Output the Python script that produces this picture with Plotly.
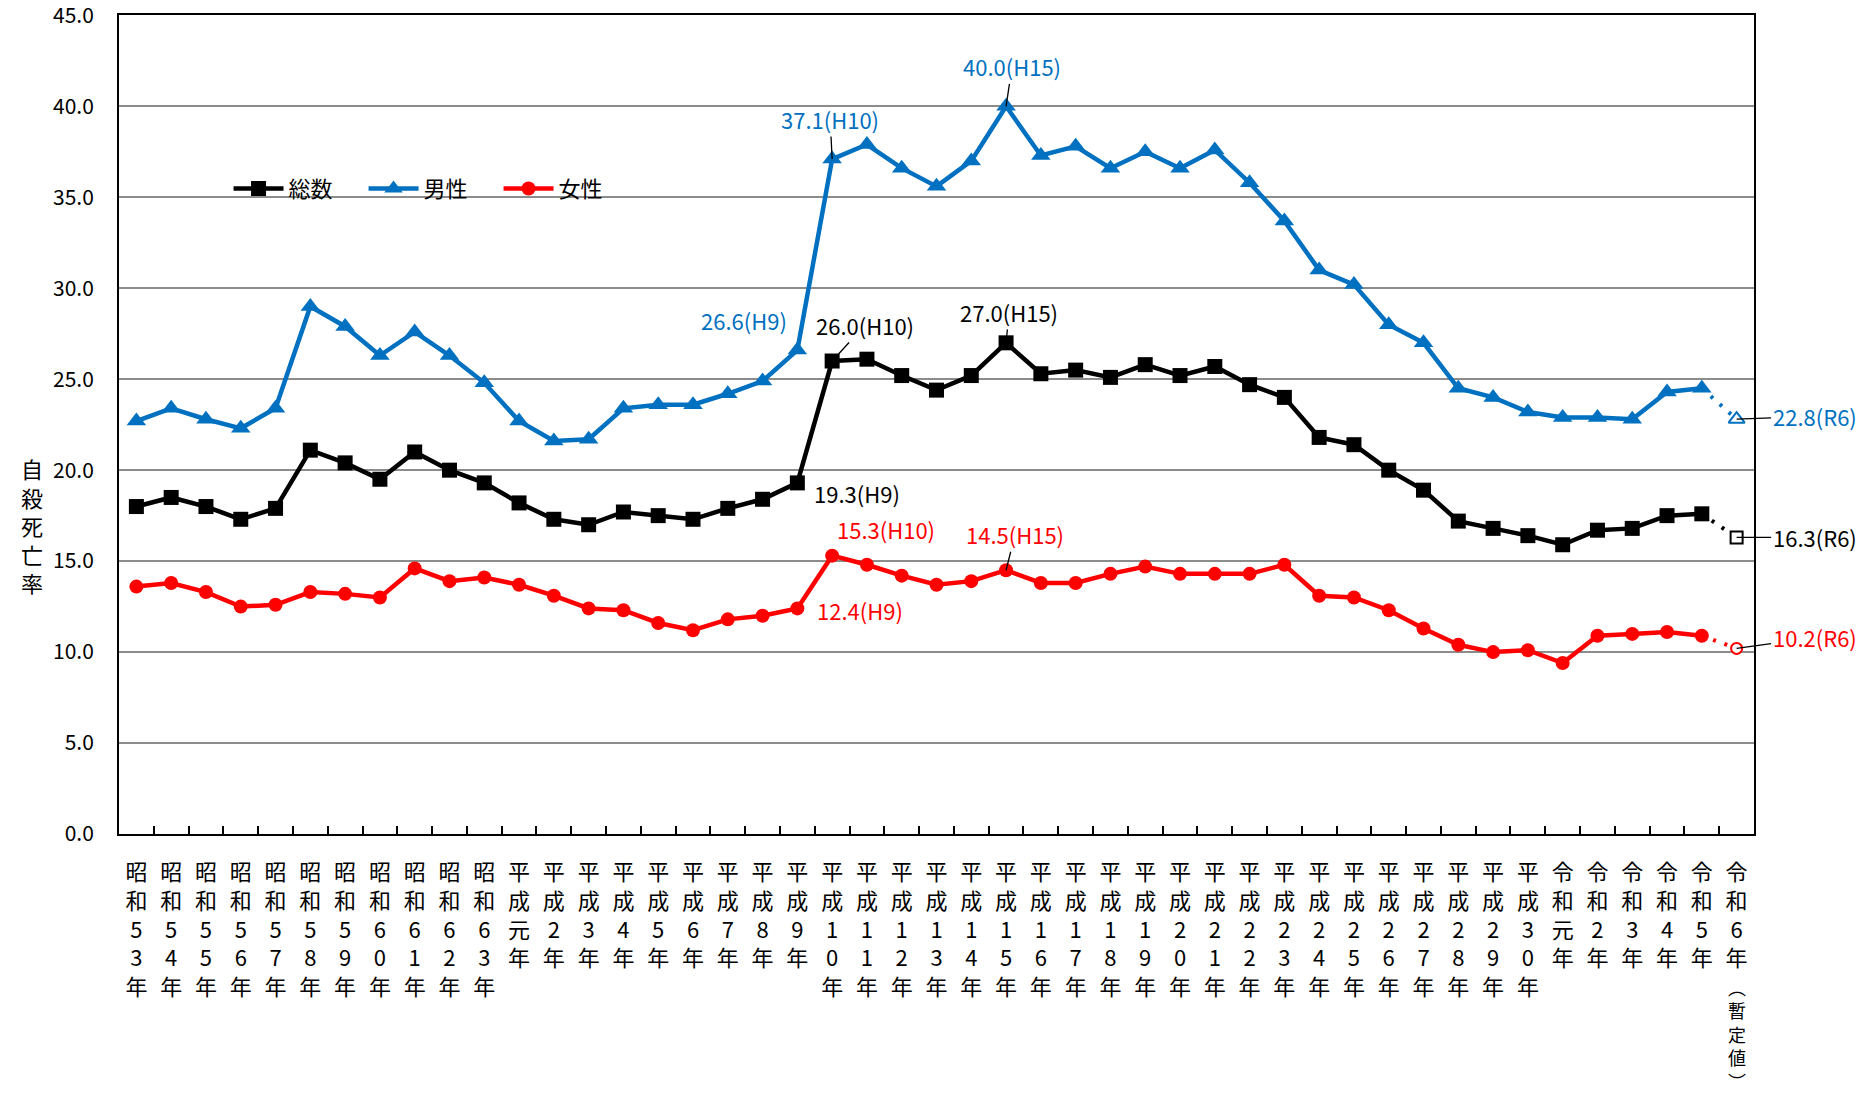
import plotly.graph_objects as go

categories = [
    "昭和53年", "昭和54年", "昭和55年", "昭和56年", "昭和57年", "昭和58年", "昭和59年",
    "昭和60年", "昭和61年", "昭和62年", "昭和63年",
    "平成元年", "平成2年", "平成3年", "平成4年", "平成5年", "平成6年", "平成7年", "平成8年", "平成9年",
    "平成10年", "平成11年", "平成12年", "平成13年", "平成14年", "平成15年", "平成16年", "平成17年",
    "平成18年", "平成19年", "平成20年", "平成21年", "平成22年", "平成23年", "平成24年", "平成25年",
    "平成26年", "平成27年", "平成28年", "平成29年", "平成30年",
    "令和元年", "令和2年", "令和3年", "令和4年", "令和5年", "令和6年（暫定値）",
]

total = [18.0, 18.5, 18.0, 17.3, 17.9, 21.1, 20.4, 19.5, 21.0, 20.0, 19.3,
         18.2, 17.3, 17.0, 17.7, 17.5, 17.3, 17.9, 18.4, 19.3,
         26.0, 26.1, 25.2, 24.4, 25.2, 27.0, 25.3, 25.5, 25.1, 25.8, 25.2, 25.7,
         24.7, 24.0, 21.8, 21.4, 20.0, 18.9, 17.2, 16.8, 16.4,
         15.9, 16.7, 16.8, 17.5, 17.6, 16.3]

male = [22.7, 23.4, 22.8, 22.3, 23.4, 29.0, 27.9, 26.3, 27.6, 26.3, 24.8,
        22.7, 21.6, 21.7, 23.4, 23.6, 23.6, 24.2, 24.9, 26.6,
        37.1, 37.9, 36.6, 35.6, 37.0, 40.0, 37.3, 37.8, 36.6, 37.5, 36.6, 37.6,
        35.8, 33.7, 31.0, 30.2, 28.0, 27.0, 24.5, 24.0, 23.2,
        22.9, 22.9, 22.8, 24.3, 24.5, 22.8]

female = [13.6, 13.8, 13.3, 12.5, 12.6, 13.3, 13.2, 13.0, 14.6, 13.9, 14.1,
          13.7, 13.1, 12.4, 12.3, 11.6, 11.2, 11.8, 12.0, 12.4,
          15.3, 14.8, 14.2, 13.7, 13.9, 14.5, 13.8, 13.8, 14.3, 14.7, 14.3, 14.3,
          14.3, 14.8, 13.1, 13.0, 12.3, 11.3, 10.4, 10.0, 10.1,
          9.4, 10.9, 11.0, 11.1, 10.9, 10.2]

series_names = ["総数", "男性", "女性"]

y_ticks = [0, 5, 10, 15, 20, 25, 30, 35, 40, 45]


def vertical(label):
    return "<br>".join(label.replace("（", "︵").replace("）", "︶"))


# main part of each category label goes on the axis; a parenthesised note
# (暫定値) is drawn below it at a slightly smaller size so it fits the page
tick_labels = [vertical(c.split("（")[0]) for c in categories]
notes = [("（" + c.split("（")[1]) if "（" in c else "" for c in categories]

BLACK = "#000000"
BLUE = "#0070C0"
RED = "#FF0000"
FONT = "Noto Sans CJK JP"

specs = [
    (series_names[0], total, BLACK, "square", 15),
    (series_names[1], male, BLUE, "triangle-up", 17),
    (series_names[2], female, RED, "circle", 14),
]

fig = go.Figure()
for name, vals, color, symbol, size in specs:
    fig.add_trace(go.Scatter(
        x=categories[:-1], y=vals[:-1], mode="lines+markers", name=name,
        line=dict(color=color, width=4.5),
        marker=dict(symbol=symbol, size=size, color=color)))
for name, vals, color, symbol, size in specs:
    # dotted segment to provisional value
    fig.add_trace(go.Scatter(
        x=categories[-2:], y=vals[-2:], mode="lines",
        line=dict(color=color, width=4, dash="3px,9px"),
        showlegend=False, hoverinfo="skip"))
for name, vals, color, symbol, size in specs:
    fig.add_trace(go.Scatter(
        x=categories[-1:], y=vals[-1:], mode="markers", showlegend=False,
        marker=dict(symbol=symbol, size=size - 3, color="white",
                    line=dict(color=color, width=2))))

ann = []


def label(idx, vals, text, color, ax=None, ay=None, xshift=0, yshift=0):
    d = dict(x=categories[idx], y=vals[idx], text=text,
             font=dict(family=FONT, size=22, color=color))
    if ax is None:
        d.update(showarrow=False, xshift=xshift, yshift=yshift)
    else:
        d.update(showarrow=True, ax=ax, ay=ay, arrowhead=0, arrowwidth=1.3,
                 arrowcolor=BLACK, standoff=0)
    ann.append(d)


i9 = categories.index("平成9年")
i10 = categories.index("平成10年")
i15 = categories.index("平成15年")
iR6 = len(categories) - 1

label(i10, male, f"{male[i10]:.1f}(H10)", BLUE, ax=-2, ay=-40)
label(i15, male, f"{male[i15]:.1f}(H15)", BLUE, ax=6, ay=-40)
label(i9, male, f"{male[i9]:.1f}(H9)", BLUE, xshift=-53, yshift=30)
label(i10, total, f"{total[i10]:.1f}(H10)", BLACK, ax=33, ay=-36)
label(i15, total, f"{total[i15]:.1f}(H15)", BLACK, ax=3, ay=-31)
label(i9, total, f"{total[i9]:.1f}(H9)", BLACK, xshift=60, yshift=-10)
label(i10, female, f"{female[i10]:.1f}(H10)", RED, xshift=54, yshift=27)
label(i15, female, f"{female[i15]:.1f}(H15)", RED, ax=9, ay=-36)
label(i9, female, f"{female[i9]:.1f}(H9)", RED, xshift=63, yshift=-2)
label(iR6, male, f"{male[iR6]:.1f}(R6)", BLUE, ax=78, ay=-3)
label(iR6, total, f"{total[iR6]:.1f}(R6)", BLACK, ax=78, ay=0)
label(iR6, female, f"{female[iR6]:.1f}(R6)", RED, ax=78, ay=-11)

# y-axis title, stacked vertically
ann.append(dict(x=-0.061, y=0.377, xref="paper", yref="paper",
                text="<br>".join("自殺死亡率"), showarrow=False,
                font=dict(family=FONT, size=22, color=BLACK)))

# parenthesised notes under tick labels
for cat, note in zip(categories, notes):
    if note:
        ann.append(dict(x=cat, y=-0.2445, xref="x", yref="paper", yanchor="middle",
                        text=vertical(note), showarrow=False,
                        font=dict(family=FONT, size=18, color=BLACK)))

fig.update_layout(
    width=1872, height=1095,
    margin=dict(l=119, r=118, t=15, b=261, autoexpand=False),
    paper_bgcolor="white", plot_bgcolor="white",
    font=dict(family=FONT, color=BLACK),
    annotations=ann,
    legend=dict(orientation="h", x=0.067, y=0.788, xanchor="left", yanchor="middle",
                font=dict(family=FONT, size=22, color=BLACK),
                bgcolor="rgba(0,0,0,0)", itemwidth=50,
                entrywidth=70, entrywidthmode="pixels"),
    xaxis=dict(type="category", tickvals=categories, ticktext=tick_labels,
               categoryorder="array", categoryarray=categories,
               range=[-0.5, len(categories) - 0.5], automargin=False,
               tickfont=dict(family=FONT, size=22, color=BLACK),
               showline=True, linecolor=BLACK, linewidth=2, mirror=True,
               ticks="inside", tickson="boundaries", ticklen=8, tickcolor=BLACK,
               tickwidth=1.5, showgrid=False, ticklabelstandoff=18,
               ticklabeloverflow="allow"),
    yaxis=dict(range=[0, 45.02], tickvals=y_ticks, tickformat=".1f", automargin=False,
               tickfont=dict(family=FONT, size=21, color=BLACK),
               gridcolor="#8c8c8c", gridwidth=1.5, zeroline=False,
               showline=True, linecolor=BLACK, linewidth=2, mirror=True,
               ticklabelstandoff=19, ticklabeloverflow="allow"),
)

fig.write_html("out.html", config={"displayModeBar": False},
               post_script="document.body.style.margin='0';")
